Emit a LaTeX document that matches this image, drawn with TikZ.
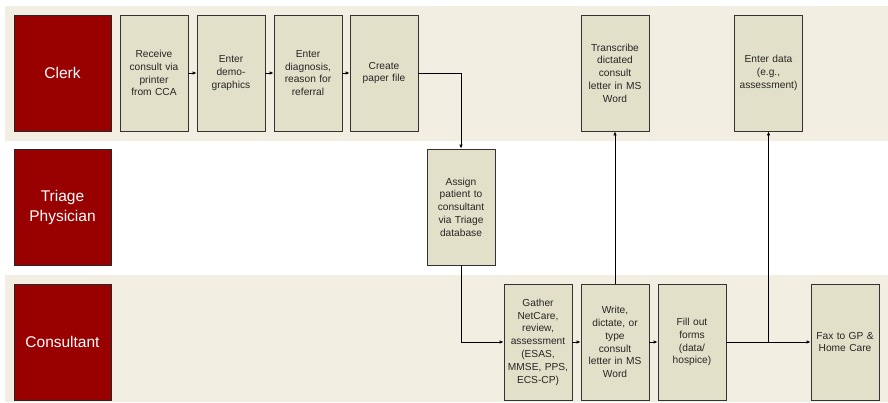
\documentclass[tikz,border=0pt]{standalone}
\usepackage{fontspec}
\setmainfont{Liberation Sans}
\usetikzlibrary{arrows.meta}

\definecolor{lanered}{HTML}{990000}
\definecolor{boxfill}{HTML}{E2E0C8}
\definecolor{bandfill}{HTML}{F2EFE2}

\tikzset{
    lane/.style={draw=black!85, line width=0.8pt, fill=lanered, text=white,
        minimum width=97pt, minimum height=116pt, inner sep=0pt, align=center,
        font=\fontsize{15.5}{19.3}\selectfont},
    task/.style={draw=black!80, line width=0.8pt, fill=boxfill, text=black!85,
        minimum width=68pt, minimum height=116pt, inner sep=0pt, align=center,
        text width=64pt, font=\fontsize{10.2}{12.8}\selectfont},
    flow/.style={line width=0.8pt, -{Latex[length=4pt,width=3.5pt]}}
}

\begin{document}
\begin{tikzpicture}[x=1pt,y=-1pt]

    \useasboundingbox (0,0) rectangle (888,402);

    % Bandes
    \fill[bandfill] (5,6) rectangle (888,141);
    \fill[bandfill] (5,275) rectangle (888,402);

    % Acteurs
    \node[lane] (clerk) at (62.5,73) {Clerk};
    \node[lane] (triage) at (62.5,207.5) {Triage\\Physician};
    \node[lane] (consultant) at (62.5,342) {Consultant};

    % ---- Clerk ----
    \node[task] (receive) at (154,73) {Receive\\consult via\\printer\\from CCA};
    \node[task] (demo) at (231,73) {Enter\\demo-\\graphics};
    \node[task] (diag) at (308,73) {Enter\\diagnosis,\\reason for\\referral};
    \node[task] (paper) at (384,73) {Create\\paper file};
    \node[task] (transcribe) at (615,73) {Transcribe\\dictated\\consult\\letter in MS\\Word};
    \node[task] (enterdata) at (768.5,73) {Enter data\\(e.g.,\\assessment)};

    % ---- Triage ----
    \node[task] (assign) at (461,207) {Assign\\patient to\\consultant\\via Triage\\database};

    % ---- Consultant ----
    \node[task] (gather) at (538,342) {Gather\\NetCare,\\review,\\assessment\\(ESAS,\\MMSE, PPS,\\ECS-CP)};
    \node[task] (write) at (615,342) {Write,\\dictate, or\\type\\consult\\letter in MS\\Word};
    \node[task] (fill) at (692,342) {Fill out\\forms\\(data/\\hospice)};
    \node[task] (fax) at (845,342) {Fax to GP \&\\Home Care};

    % Fleches
    \draw[flow] (receive) -- (demo);
    \draw[flow] (demo) -- (diag);
    \draw[flow] (diag) -- (paper);
    \draw[flow] (paper.east) -| (assign.north);
    \draw[flow] (assign.south) |- (gather.west);
    \draw[flow] (gather) -- (write);
    \draw[flow] (write) -- (fill);
    \draw[flow] (write.north) -- (transcribe.south);
    \draw[flow] (fill) -- (fax);
    \draw[flow] (enterdata.south |- fill.east) -- (enterdata.south);

\end{tikzpicture}
\end{document}
